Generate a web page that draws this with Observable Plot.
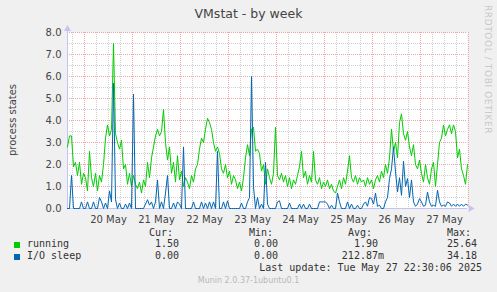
<!DOCTYPE html>
<html><head><meta charset="utf-8">
<script src="https://cdn.jsdelivr.net/npm/d3@7"></script>
<script src="https://cdn.jsdelivr.net/npm/@observablehq/plot@0.6"></script>
<style>
html,body{margin:0;padding:0;background:#f0f0f0;}
#wrap{position:relative;width:497px;height:292px;background:#f0f0f0;overflow:hidden;font-family:"DejaVu Sans",sans-serif;}
#wrap svg{position:absolute;left:0;top:0;}
.abs{position:absolute;white-space:pre;line-height:12px;}
.mono{font-family:"DejaVu Sans Mono",monospace;font-size:10px;color:#333;}
.sq{position:absolute;width:6px;height:6px;}
</style></head><body><div id="wrap"></div>
<script>
// ---- data (hourly samples, starting 19 May 2025 15:30 UTC) ----
const startTime = "2025-05-19T15:30:00Z";
const stepHours = 1;
const running = [
 2.8,3.3,3.3,1.9,2.1,1.5,2.1,1.1,1.6,1.4,
 0.8,2.6,1.4,1.0,1.6,0.8,1.5,1.2,2.0,3.2,
 3.8,3.3,3.6,7.5,3.4,3.0,2.7,3.1,1.8,2.0,
 1.1,1.6,1.0,1.5,1.1,0.9,1.2,0.7,1.3,1.0,
 2.1,1.4,2.3,2.8,3.3,3.6,3.3,3.5,4.5,3.0,
 2.2,2.8,1.6,2.1,1.2,2.4,1.3,1.7,1.0,1.4,
 1.2,0.9,1.5,1.2,1.8,2.0,2.7,3.2,3.0,3.6,
 4.1,3.9,3.6,3.0,2.6,2.8,2.5,1.8,1.6,2.0,
 1.4,1.7,1.1,1.5,1.3,0.9,1.2,0.8,1.4,2.3,
 2.9,2.4,3.6,3.7,2.6,2.7,2.5,1.7,2.0,1.1,
 1.8,1.4,1.1,1.6,3.7,1.5,1.3,1.6,1.2,1.5,
 1.0,1.4,0.9,1.3,1.1,1.5,1.9,2.6,1.4,1.7,
 1.1,1.5,1.2,2.6,1.3,1.1,1.4,0.9,1.2,1.0,
 1.3,0.9,1.1,0.8,0.7,1.0,1.3,0.9,1.4,1.1,
 1.7,2.4,1.4,1.2,1.5,1.1,1.4,1.2,1.3,1.0,
 1.4,1.1,1.3,0.9,1.3,1.5,1.2,1.7,1.4,2.0,
 1.6,2.3,3.6,2.6,3.0,2.3,3.9,4.3,3.4,3.1,
 3.5,2.8,2.4,2.9,2.0,1.8,2.2,1.6,1.2,2.0,
 1.4,1.1,1.8,2.1,1.0,2.0,3.0,3.2,3.8,3.3,
 3.6,3.8,3.4,3.8,3.5,2.3,2.7,1.8,1.5,1.1,
 2.0
];
const ioSleep = [
 0,0,1.5,0,0,0,0,0.3,0,0,
 0.3,0,0,0.3,0,0,0.5,0.3,0,0.25,
 0,0.8,0.3,5.7,0.4,0,0.25,0,0,0.2,
 0,0.25,0,5.2,0,0,0,0,0,0.2,
 0.4,0.15,0.3,0,0.3,1.3,0,0.3,0,0.7,
 1.5,0,0,0.25,0,0.3,0.2,0,2.8,0,
 0,0,0,0.3,0,0,0,0.3,0,0.25,
 0,0.3,0,0.3,0,2.6,0,0,0.3,0,
 0.35,0,0,0,0,0,0,0.25,0,0,
 0.3,0.5,6.0,1.0,0,0.5,0,0.2,0,2.1,
 0.2,0,0,0,0,0.3,0.35,0,0,0,
 0,0.25,0,0,0,0,0.2,0,0.2,0,
 0,0.2,0,0,0,0,0.3,0.3,0.3,0.3,
 0.2,0,0.15,0,0,0.7,0.3,0,0,0,
 0.3,0,0.2,0,0,0.15,0,0,0.2,0.3,
 0.1,0.5,0.45,0.2,0.7,0.1,0.15,0,0,0.3,
 0.5,1.36,1.8,2.8,1.67,0.75,1.4,0.6,2.15,1.0,
 1.36,0.5,1.3,0.3,0.1,0.2,0.45,0.3,0.1,0.15,
 0.75,0.3,0.1,0.15,0.1,0.83,0.3,0.1,0.15,0.1,
 0.3,0.25,0.1,0.2,0.1,0.2,0.1,0.2,0.1,0.2,
 0.15
];
const dayDates = ["2025-05-20","2025-05-21","2025-05-22","2025-05-23","2025-05-24","2025-05-25","2025-05-26","2025-05-27"];
const dayLabels = ["20 May","21 May","22 May","23 May","24 May","25 May","26 May","27 May"];
const yTicks = [0,1,2,3,4,5,6,7,8];
const seriesNames = ["running","I/O sleep"];
const seriesColors = ["#00cc00","#0066b3"];
const curVals = ["1.50","0.00"];
const minVals = ["0.00","0.00"];
const avgVals = ["1.90","212.87m"];
const maxVals = ["25.64","34.18"];
const titleText = "VMstat - by week";
const yLabel = "process states";
const lastUpdate = "Last update: Tue May 27 22:30:06 2025";
const footer = "Munin 2.0.37-1ubuntu0.1";
const sideText = "RRDTOOL / TOBI OETIKER";

// ---- build ----
const H = 3600e3;
const t0 = new Date(startTime);
const rows = running.map((v, i) => ({t: new Date(+t0 + i*stepHours*H), running: v, io: ioSleep[i]}));
const tEnd = new Date(+t0 + (running.length-1)*stepHours*H);
const midnights = dayDates.map(d => new Date(d + "T00:00:00Z")).concat([new Date("2025-05-28T00:00:00Z")]);
const noons = dayDates.map(d => new Date(d + "T12:00:00Z"));
const labelByTime = new Map(noons.map((d,i)=>[+d, dayLabels[i]]));
const minorX = d3.utcHour.every(6).range(new Date(+t0), new Date(+midnights[midnights.length-1]+1)).filter(d => d.getUTCHours() !== 0);
const minorY = d3.range(0.5, 8, 1);
const majorY = yTicks.filter(v => v > 0);
const axisCol = "#c4c4f4";
const yMax = yTicks[yTicks.length-1];

const chart = Plot.plot({
  width: 497, height: 292,
  marginLeft: 67, marginRight: 30, marginTop: 32, marginBottom: 84,
  style: {fontFamily: "DejaVu Sans, sans-serif", fontSize: "10px", background: "transparent", color: "#444", overflow: "visible"},
  x: {type: "utc", domain: [t0, tEnd]},
  y: {domain: [0, yMax]},
  marks: [
    Plot.frame({fill: "white", stroke: null}),
    Plot.gridY(minorY, {stroke: "#cfcfcf", strokeOpacity: 1, strokeDasharray: "1,1"}),
    Plot.gridX(minorX, {stroke: "#cfcfcf", strokeOpacity: 1, strokeDasharray: "1,1"}),
    Plot.gridY(majorY, {stroke: "#f0a4a4", strokeOpacity: 1, strokeDasharray: "1,1"}),
    Plot.gridX(midnights, {stroke: "#f0a4a4", strokeOpacity: 1, strokeDasharray: "1,1"}),
    Plot.ruleY([0], {stroke: axisCol}),
    Plot.ruleX([t0], {stroke: axisCol, y1: 0, y2: yMax * 1.02}),
    Plot.dot([t0], {x: d => d, y: () => yMax * 1.02, symbol: "triangle", r: 2.6, fill: axisCol, stroke: null}),
    Plot.dot([tEnd], {x: d => new Date(+d + 1.6*H), y: () => 0, symbol: "triangle", rotate: 90, r: 2.6, fill: axisCol, stroke: null}),
    Plot.line(rows, {x: "t", y: "running", stroke: seriesColors[0], strokeWidth: 1}),
    Plot.line(rows, {x: "t", y: "io", stroke: seriesColors[1], strokeWidth: 1}),
    Plot.axisY({ticks: yTicks, tickFormat: d => d.toFixed(1), tickSize: 0, tickPadding: 6, label: null, fill: "#444"}),
    Plot.axisX({ticks: noons, tickFormat: d => labelByTime.get(+d), tickSize: 0, tickPadding: 7, label: null, fill: "#444"})
  ]
});
const wrap = document.getElementById("wrap");
wrap.appendChild(chart);

function addDiv(text, css, cls) {
  const d = document.createElement("div");
  d.className = "abs " + (cls || "");
  d.textContent = text;
  Object.assign(d.style, css);
  wrap.appendChild(d);
  return d;
}
addDiv(titleText, {left: "0px", top: "7px", width: "497px", textAlign: "center", fontSize: "12.5px", color: "#444", lineHeight: "14px"});
addDiv(yLabel, {left: "13px", top: "120px", fontSize: "10px", color: "#444", transform: "translate(-50%,-50%) rotate(-90deg)", lineHeight: "12px"});
addDiv(sideText, {left: "483px", top: "5px", fontSize: "9px", color: "#c8c8c8", writingMode: "vertical-rl", lineHeight: "10px", letterSpacing: "0.6px"});

// legend
const headers = [["Cur:",149],["Min:",249],["Avg:",348],["Max:",447]];
headers.forEach(([h,x]) => addDiv(h, {left: x+"px", top: "227px"}, "mono"));
const colEnds = [179, 278, 378, 477];
seriesNames.forEach((name, i) => {
  const top = 238 + i*12;
  const sq = document.createElement("div");
  sq.className = "sq";
  Object.assign(sq.style, {left: "14px", top: (top+4)+"px", background: seriesColors[i]});
  wrap.appendChild(sq);
  addDiv(name, {left: "27px", top: top+"px"}, "mono");
  [curVals[i], minVals[i], avgVals[i], maxVals[i]].forEach((v, j) => {
    let end = colEnds[j];
    if (v.endsWith("m")) end += 6;
    addDiv(v, {right: (497-end)+"px", top: top+"px", textAlign: "right"}, "mono");
  });
});
addDiv(lastUpdate, {right: (497-482)+"px", top: "262px", textAlign: "right"}, "mono");
addDiv(footer, {left: "0px", width: "497px", top: "276px", textAlign: "center", fontSize: "8px", color: "#b8b8b8", lineHeight: "10px"});
</script>
</body></html>
